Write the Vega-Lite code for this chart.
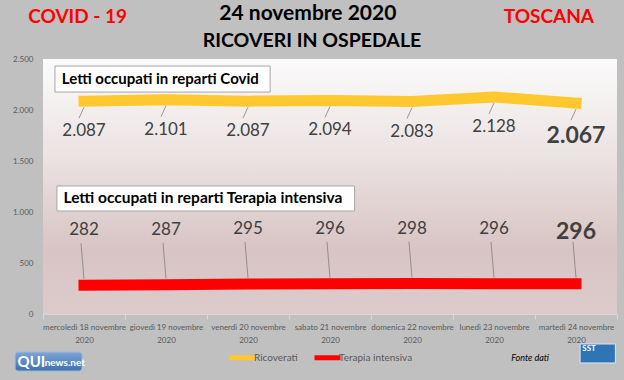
{
  "$schema": "https://vega.github.io/schema/vega-lite/v6.json",
  "width": 574,
  "height": 255,
  "autosize": {"type": "none"},
  "padding": {"left": 43, "top": 59, "right": 7, "bottom": 66},
  "background": "#c0c0c0",
  "config": {
    "font": "Lato",
    "locale": {"number": {"decimal": ",", "thousands": ".", "grouping": [3], "currency": ["€", ""]}},
    "view": {"stroke": null}
  },
  "data": {
    "values": [
      {"giorno": "mercoledì 18 novembre 2020", "serie": "Ricoverati", "valore": 2087},
      {"giorno": "giovedì 19 novembre 2020", "serie": "Ricoverati", "valore": 2101},
      {"giorno": "venerdì 20 novembre 2020", "serie": "Ricoverati", "valore": 2087},
      {"giorno": "sabato 21 novembre 2020", "serie": "Ricoverati", "valore": 2094},
      {"giorno": "domenica 22 novembre 2020", "serie": "Ricoverati", "valore": 2083},
      {"giorno": "lunedì 23 novembre 2020", "serie": "Ricoverati", "valore": 2128},
      {"giorno": "martedì 24 novembre 2020", "serie": "Ricoverati", "valore": 2067},
      {"giorno": "mercoledì 18 novembre 2020", "serie": "Terapia intensiva", "valore": 282},
      {"giorno": "giovedì 19 novembre 2020", "serie": "Terapia intensiva", "valore": 287},
      {"giorno": "venerdì 20 novembre 2020", "serie": "Terapia intensiva", "valore": 295},
      {"giorno": "sabato 21 novembre 2020", "serie": "Terapia intensiva", "valore": 296},
      {"giorno": "domenica 22 novembre 2020", "serie": "Terapia intensiva", "valore": 298},
      {"giorno": "lunedì 23 novembre 2020", "serie": "Terapia intensiva", "valore": 296},
      {"giorno": "martedì 24 novembre 2020", "serie": "Terapia intensiva", "valore": 296}
    ]
  },
  "resolve": {"scale": {"x": "independent"}},
  "layer": [
    {
      "data": {"values": [{}]},
      "layer": [
        {
          "mark": {"type": "rect", "fill": {"gradient": "linear", "x1": 0, "y1": 0, "x2": 0, "y2": 1, "stops": [{"offset": 0, "color": "#fbfbfb"}, {"offset": 0.4, "color": "#ebe1e1"}, {"offset": 0.75, "color": "#d8c4c4"}, {"offset": 1, "color": "#ddcbcb"}]}},
          "encoding": {
            "x": {"datum": 0, "type": "quantitative", "scale": {"domain": [0, 7], "nice": false, "zero": false}, "axis": null},
            "x2": {"datum": 7},
            "y": {"datum": 0, "type": "quantitative", "scale": {"domain": [0, 2500], "nice": false}},
            "y2": {"datum": 2500}
          }
        },
        {
          "mark": {"type": "rect", "fill": "white", "stroke": "#a6a6a6", "strokeWidth": 1},
          "encoding": {
            "x": {"datum": 0.146, "type": "quantitative", "scale": {"domain": [0, 7], "nice": false, "zero": false}, "axis": null},
            "x2": {"datum": 2.77},
            "y": {"datum": 2176, "type": "quantitative", "scale": {"domain": [0, 2500], "nice": false}},
            "y2": {"datum": 2431}
          }
        },
        {
          "mark": {"type": "text", "align": "left", "baseline": "middle", "fontWeight": "bold", "fontSize": 15, "color": "black"},
          "encoding": {
            "x": {"datum": 0.23, "type": "quantitative", "scale": {"domain": [0, 7], "nice": false, "zero": false}, "axis": null},
            "y": {"datum": 2304, "type": "quantitative", "scale": {"domain": [0, 2500], "nice": false}},
            "text": {"value": "Letti occupati in reparti Covid"}
          }
        },
        {
          "mark": {"type": "rect", "fill": "white", "stroke": "#a6a6a6", "strokeWidth": 1},
          "encoding": {
            "x": {"datum": 0.17, "type": "quantitative", "scale": {"domain": [0, 7], "nice": false, "zero": false}, "axis": null},
            "x2": {"datum": 3.8},
            "y": {"datum": 1010, "type": "quantitative", "scale": {"domain": [0, 2500], "nice": false}},
            "y2": {"datum": 1255}
          }
        },
        {
          "mark": {"type": "text", "align": "left", "baseline": "middle", "fontWeight": "bold", "fontSize": 15.5, "color": "black"},
          "encoding": {
            "x": {"datum": 0.25, "type": "quantitative", "scale": {"domain": [0, 7], "nice": false, "zero": false}, "axis": null},
            "y": {"datum": 1137, "type": "quantitative", "scale": {"domain": [0, 2500], "nice": false}},
            "text": {"value": "Letti occupati in reparti Terapia intensiva"}
          }
        },
        {
          "mark": {"type": "text", "align": "left", "baseline": "middle", "fontWeight": "bold", "fontSize": 19, "color": "#ff0000"},
          "encoding": {
            "x": {"datum": -0.18, "type": "quantitative", "scale": {"domain": [0, 7], "nice": false, "zero": false}, "axis": null},
            "y": {"datum": 2912, "type": "quantitative", "scale": {"domain": [0, 2500], "nice": false}},
            "text": {"value": "COVID - 19"}
          }
        },
        {
          "mark": {"type": "text", "align": "right", "baseline": "middle", "fontWeight": "bold", "fontSize": 19, "color": "#ff0000"},
          "encoding": {
            "x": {"datum": 6.72, "type": "quantitative", "scale": {"domain": [0, 7], "nice": false, "zero": false}, "axis": null},
            "y": {"datum": 2912, "type": "quantitative", "scale": {"domain": [0, 2500], "nice": false}},
            "text": {"value": "TOSCANA"}
          }
        },
        {
          "mark": {"type": "text", "align": "center", "baseline": "middle", "fontWeight": "bold", "fontSize": 21, "color": "black"},
          "encoding": {
            "x": {"datum": 3.23, "type": "quantitative", "scale": {"domain": [0, 7], "nice": false, "zero": false}, "axis": null},
            "y": {"datum": 2941, "type": "quantitative", "scale": {"domain": [0, 2500], "nice": false}},
            "text": {"value": "24 novembre 2020"}
          }
        },
        {
          "mark": {"type": "text", "align": "center", "baseline": "middle", "fontWeight": "bold", "fontSize": 19.5, "color": "black"},
          "encoding": {
            "x": {"datum": 3.28, "type": "quantitative", "scale": {"domain": [0, 7], "nice": false, "zero": false}, "axis": null},
            "y": {"datum": 2676, "type": "quantitative", "scale": {"domain": [0, 2500], "nice": false}},
            "text": {"value": "RICOVERI IN OSPEDALE"}
          }
        },
        {
          "mark": {"type": "rect", "cornerRadius": 3, "stroke": "#9fb8d8", "strokeWidth": 1, "fill": {"gradient": "linear", "x1": 0, "y1": 0, "x2": 0, "y2": 1, "stops": [{"offset": 0, "color": "#7ea6d6"}, {"offset": 1, "color": "#3e6fae"}]}},
          "encoding": {
            "x": {"datum": -0.34, "type": "quantitative", "scale": {"domain": [0, 7], "nice": false, "zero": false}, "axis": null},
            "x2": {"datum": 0.476},
            "y": {"datum": -559, "type": "quantitative", "scale": {"domain": [0, 2500], "nice": false}},
            "y2": {"datum": -373}
          }
        },
        {
          "mark": {"type": "text", "align": "left", "baseline": "middle", "fontWeight": "bold", "fontSize": 15, "color": "white"},
          "encoding": {
            "x": {"datum": -0.31, "type": "quantitative", "scale": {"domain": [0, 7], "nice": false, "zero": false}, "axis": null},
            "y": {"datum": -466, "type": "quantitative", "scale": {"domain": [0, 2500], "nice": false}},
            "text": {"value": "QUI"}
          }
        },
        {
          "mark": {"type": "text", "align": "left", "baseline": "middle", "fontWeight": "bold", "fontSize": 10, "color": "white"},
          "encoding": {
            "x": {"datum": 0.02, "type": "quantitative", "scale": {"domain": [0, 7], "nice": false, "zero": false}, "axis": null},
            "y": {"datum": -476, "type": "quantitative", "scale": {"domain": [0, 2500], "nice": false}},
            "text": {"value": "news.net"}
          }
        },
        {
          "mark": {"type": "rect", "fill": "#2f75b5", "stroke": "#dbe6f2", "strokeWidth": 1},
          "encoding": {
            "x": {"datum": 6.55, "type": "quantitative", "scale": {"domain": [0, 7], "nice": false, "zero": false}, "axis": null},
            "x2": {"datum": 6.98},
            "y": {"datum": -480, "type": "quantitative", "scale": {"domain": [0, 2500], "nice": false}},
            "y2": {"datum": -294}
          }
        },
        {
          "mark": {"type": "text", "align": "center", "baseline": "middle", "fontWeight": "bold", "fontSize": 8, "color": "white"},
          "encoding": {
            "x": {"datum": 6.66, "type": "quantitative", "scale": {"domain": [0, 7], "nice": false, "zero": false}, "axis": null},
            "y": {"datum": -340, "type": "quantitative", "scale": {"domain": [0, 2500], "nice": false}},
            "text": {"value": "SST"}
          }
        },
        {
          "mark": {"type": "text", "align": "center", "baseline": "middle", "fontStyle": "italic", "fontSize": 9, "color": "black"},
          "encoding": {
            "x": {"datum": 5.94, "type": "quantitative", "scale": {"domain": [0, 7], "nice": false, "zero": false}, "axis": null},
            "y": {"datum": -431, "type": "quantitative", "scale": {"domain": [0, 2500], "nice": false}},
            "text": {"value": "Fonte dati"}
          }
        }
      ]
    },
    {
      "layer": [
        {
          "mark": {"type": "line", "strokeWidth": 11, "strokeCap": "square"},
          "encoding": {
            "x": {
              "field": "giorno", "type": "nominal", "sort": null,
              "scale": {"type": "band", "paddingInner": 0, "paddingOuter": 0},
              "axis": {
                "title": null, "labelAngle": 0, "labelOverlap": false, "labelLimit": 0, "labelFlush": false,
                "labelExpr": "datum.label ? [replace(datum.label, ' 2020', ''), '2020'] : ''",
                "labelFontSize": 8, "labelColor": "#595959", "labelLineHeight": 13, "labelPadding": 4,
                "domainColor": "#d9d9d9", "tickColor": "#d9d9d9", "tickBand": "extent", "tickSize": 5,
                "zindex": 1
              }
            },
            "y": {
              "field": "valore", "type": "quantitative",
              "scale": {"domain": [0, 2500], "nice": false},
              "axis": {
                "title": null, "values": [0, 500, 1000, 1500, 2000, 2500], "format": ",d",
                "labelFontSize": 8, "labelColor": "#595959", "labelPadding": 10,
                "ticks": false, "domain": false,
                "gridColor": "#eee6e6", "gridWidth": 1, "zindex": 1
              }
            },
            "color": {
              "field": "serie", "type": "nominal",
              "scale": {"domain": ["Ricoverati", "Terapia intensiva"], "range": ["#ffc82e", "#ff0000"]},
              "legend": {
                "title": null, "orient": "none", "legendX": 184, "legendY": 283, "direction": "horizontal",
                "symbolType": "stroke", "symbolStrokeWidth": 5, "symbolSize": 676,
                "labelFontSize": 10, "labelColor": "#595959", "labelOffset": -4, "columnPadding": 6
              }
            }
          }
        },
        {
          "transform": [{"filter": "datum.serie == 'Ricoverati'"}],
          "mark": {"type": "rule", "color": "#808080", "strokeWidth": 0.8, "yOffset": 6, "y2Offset": 17, "x2Offset": -5},
          "encoding": {
            "x": {"field": "giorno", "type": "nominal", "sort": null},
            "x2": {"field": "giorno"},
            "y": {"field": "valore", "type": "quantitative", "scale": {"domain": [0, 2500], "nice": false}},
            "y2": {"field": "valore"}
          }
        },
        {
          "transform": [{"filter": "datum.serie == 'Terapia intensiva'"}],
          "mark": {"type": "rule", "color": "#808080", "strokeWidth": 0.8, "yOffset": -6, "y2Offset": -42, "x2Offset": -3},
          "encoding": {
            "x": {"field": "giorno", "type": "nominal", "sort": null},
            "x2": {"field": "giorno"},
            "y": {"field": "valore", "type": "quantitative", "scale": {"domain": [0, 2500], "nice": false}},
            "y2": {"field": "valore"}
          }
        },
        {
          "transform": [{"filter": "datum.serie == 'Ricoverati' && datum.giorno != 'martedì 24 novembre 2020'"}],
          "mark": {"type": "text", "dy": 30, "fontSize": 17, "color": "#404040"},
          "encoding": {
            "x": {"field": "giorno", "type": "nominal", "sort": null},
            "y": {"field": "valore", "type": "quantitative", "scale": {"domain": [0, 2500], "nice": false}},
            "text": {"field": "valore", "type": "quantitative", "format": ",d"}
          }
        },
        {
          "transform": [{"filter": "datum.serie == 'Ricoverati' && datum.giorno == 'martedì 24 novembre 2020'"}],
          "mark": {"type": "text", "dy": 33, "fontSize": 23, "fontWeight": "bold", "color": "#404040"},
          "encoding": {
            "x": {"field": "giorno", "type": "nominal", "sort": null},
            "y": {"field": "valore", "type": "quantitative", "scale": {"domain": [0, 2500], "nice": false}},
            "text": {"field": "valore", "type": "quantitative", "format": ",d"}
          }
        },
        {
          "transform": [{"filter": "datum.serie == 'Terapia intensiva' && datum.giorno != 'martedì 24 novembre 2020'"}],
          "mark": {"type": "text", "dy": -55, "fontSize": 17, "color": "#404040"},
          "encoding": {
            "x": {"field": "giorno", "type": "nominal", "sort": null},
            "y": {"field": "valore", "type": "quantitative", "scale": {"domain": [0, 2500], "nice": false}},
            "text": {"field": "valore", "type": "quantitative", "format": ",d"}
          }
        },
        {
          "transform": [{"filter": "datum.serie == 'Terapia intensiva' && datum.giorno == 'martedì 24 novembre 2020'"}],
          "mark": {"type": "text", "dy": -52, "fontSize": 23, "fontWeight": "bold", "color": "#404040"},
          "encoding": {
            "x": {"field": "giorno", "type": "nominal", "sort": null},
            "y": {"field": "valore", "type": "quantitative", "scale": {"domain": [0, 2500], "nice": false}},
            "text": {"field": "valore", "type": "quantitative", "format": ",d"}
          }
        }
      ]
    }
  ]
}
